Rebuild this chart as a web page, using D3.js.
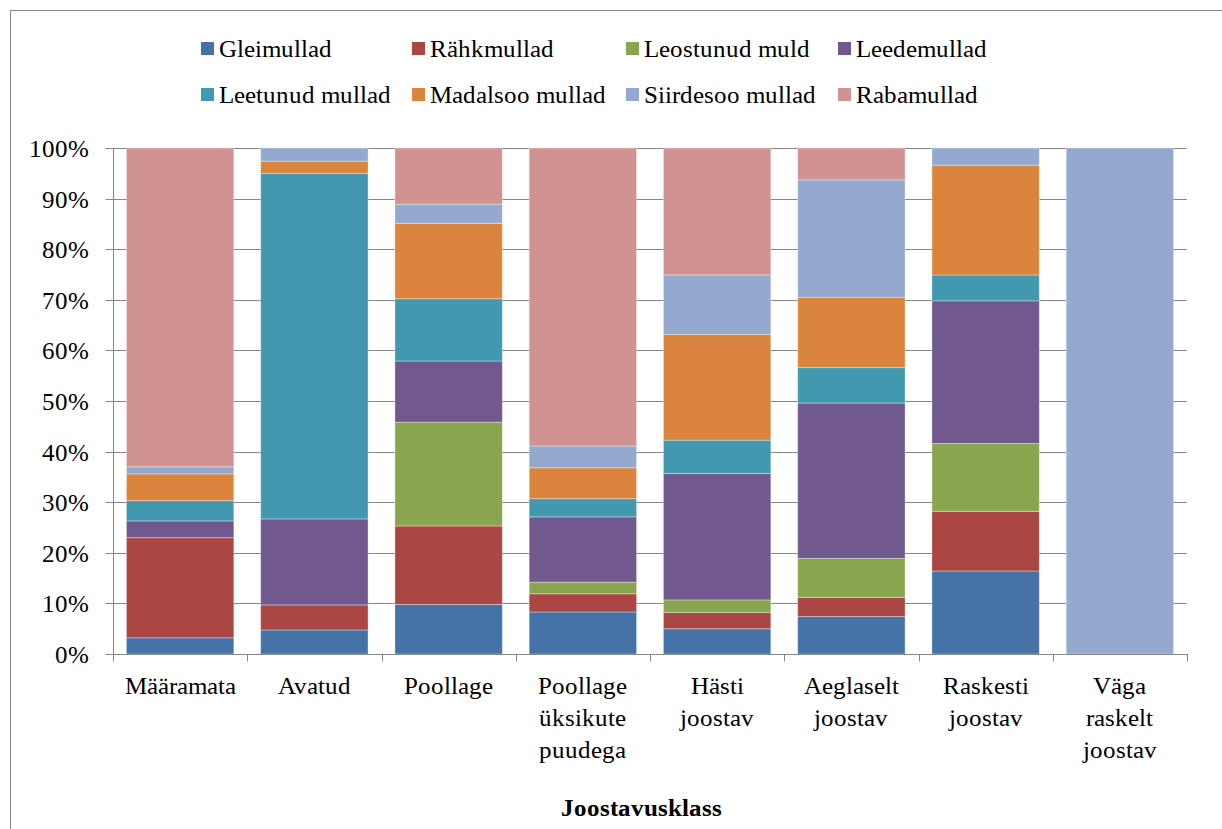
<!DOCTYPE html>
<html>
<head>
<meta charset="utf-8">
<script src="https://cdn.jsdelivr.net/npm/d3@7"></script>
<style>
  @font-face { font-family: "RefSerif"; font-weight: 400; font-style: normal;
    src: local("Liberation Serif"), local("LiberationSerif"), local("Liberation Serif Regular"), local("LiberationSerif-Regular"), local("Tinos"), local("Tinos-Regular"), local("Times New Roman"); }
  @font-face { font-family: "RefSerif"; font-weight: 700; font-style: normal;
    src: local("Liberation Serif Bold"), local("LiberationSerif-Bold"), local("Tinos Bold"), local("Tinos-Bold"); }
  html, body { margin: 0; padding: 0; background: #fff; }
</style>
</head>
<body>
<svg id="chart" width="1222" height="829"></svg>
<script>
const categories = ["Määramata", "Avatud", "Poollage", "Poollage üksikute puudega", "Hästi joostav", "Aeglaselt joostav", "Raskesti joostav", "Väga raskelt joostav"];
const categoryLines = [["Määramata"], ["Avatud"], ["Poollage"], ["Poollage", "üksikute", "puudega"], ["Hästi", "joostav"], ["Aeglaselt", "joostav"], ["Raskesti", "joostav"], ["Väga", "raskelt", "joostav"]];
const seriesNames = ["Gleimullad", "Rähkmullad", "Leostunud muld", "Leedemullad", "Leetunud mullad", "Madalsoo mullad", "Siirdesoo mullad", "Rabamullad"];
const seriesColors = ["#4572A7", "#AA4643", "#89A54E", "#71588F", "#4198AF", "#DB843D", "#93A9CF", "#D19392"];

const gleimullad     = [3.2, 4.75, 9.8, 8.3, 5.0, 7.4, 16.4, 0];
const rahkmullad     = [19.8, 4.95, 15.5, 3.6, 3.2, 3.8, 11.8, 0];
const leostunudMuld  = [0, 0, 20.5, 2.3, 2.5, 7.7, 13.4, 0];
const leedemullad    = [3.3, 17.0, 12.1, 12.9, 25.0, 30.7, 28.2, 0];
const leetunudMullad = [4.0, 68.3, 12.3, 3.6, 6.6, 7.0, 5.1, 0];
const madalsooMullad = [5.3, 2.4, 14.9, 6.1, 20.9, 13.9, 21.7, 0];
const siirdesooMullad= [1.4, 2.6, 3.8, 4.3, 11.8, 23.2, 3.4, 100];
const rabamullad     = [63.0, 0, 11.1, 58.9, 25.1, 6.3, 0, 0];

const yTicks = [0, 0.1, 0.2, 0.3, 0.4, 0.5, 0.6, 0.7, 0.8, 0.9, 1.0];
const xTitle = "Joostavusklass";

const FONT = "RefSerif, 'Liberation Serif', Tinos, 'Times New Roman', serif";
const FS = 25;

const seriesValues = [gleimullad, rahkmullad, leostunudMuld, leedemullad, leetunudMullad, madalsooMullad, siirdesooMullad, rabamullad];
const table = categories.map((c, i) => {
  const row = { category: c };
  seriesNames.forEach((s, j) => row[s] = seriesValues[j][i]);
  return row;
});

const W = 1222, H = 829;
const plot = { left: 113, right: 1187, top: 148, bottom: 654 };

function draw() {
const svg = d3.select("#chart");
svg.selectAll("*").remove();

svg.append("rect").attr("x", 10.5).attr("y", 10.5).attr("width", W + 20).attr("height", H + 20)
  .attr("fill", "none").attr("stroke", "#868686").attr("stroke-width", 1);

const x = d3.scaleBand().domain(categories).range([plot.left, plot.right]).paddingInner(0.2).paddingOuter(0.1);
const y = d3.scaleLinear().domain([0, 1]).range([plot.bottom, plot.top]);

svg.append("g").selectAll("line").data(yTicks.slice(1)).join("line")
  .attr("x1", plot.left).attr("x2", plot.right)
  .attr("y1", d => Math.round(y(d)) + 0.5).attr("y2", d => Math.round(y(d)) + 0.5)
  .attr("stroke", "#868686").attr("stroke-width", 1);

const stack = d3.stack().keys(seriesNames).offset(d3.stackOffsetExpand);
const stacked = stack(table);
svg.append("g").selectAll("g").data(stacked).join("g")
  .attr("fill", (d, i) => seriesColors[i])
  .selectAll("rect").data(d => d).join("rect")
  .attr("x", d => x(d.data.category))
  .attr("width", x.bandwidth())
  .attr("y", d => y(d[1]))
  .attr("height", d => Math.max(0, y(d[0]) - y(d[1])))
  .attr("stroke", d => (d[1] - d[0]) > 0 ? "rgba(255,255,255,0.35)" : "none")
  .attr("stroke-width", 1);

const yAxis = d3.axisLeft(y).tickValues(yTicks).tickFormat(d3.format(".0%")).tickSize(8).tickPadding(17);
const gy = svg.append("g").attr("transform", `translate(${plot.left + 0.5},0)`).call(yAxis)
  .attr("font-family", FONT).attr("font-size", FS);
gy.select(".domain").attr("stroke", "#868686").attr("d", `M-8,${plot.top}.5H0V${plot.bottom}.5H-8`);
gy.selectAll(".tick line").attr("stroke", "#868686");
gy.selectAll(".tick").attr("transform", d => `translate(0,${Math.round(y(d)) + 0.5})`);
gy.selectAll(".tick text").attr("fill", "#000");

const gx = svg.append("g").attr("transform", `translate(0,${plot.bottom + 0.5})`);
gx.append("line").attr("x1", plot.left).attr("x2", plot.right + 1).attr("y1", 0).attr("y2", 0).attr("stroke", "#868686");
const step = x.step();
const boundaries = d3.range(categories.length + 1).map(i => plot.left + i * step);
gx.selectAll("line.tk").data(boundaries).join("line").attr("class", "tk")
  .attr("x1", d => Math.round(d) + 0.5).attr("x2", d => Math.round(d) + 0.5)
  .attr("y1", 0).attr("y2", 7).attr("stroke", "#868686");

const labels = svg.append("g").attr("font-family", FONT).attr("font-size", FS);
categories.forEach((c, i) => {
  const cx = x(c) + x.bandwidth() / 2;
  const t = labels.append("text").attr("text-anchor", "middle");
  categoryLines[i].forEach((ln, k) => {
    t.append("tspan").attr("x", cx).attr("y", 694 + k * 32).text(ln);
  });
});

svg.append("text").attr("x", 641).attr("y", 816).attr("text-anchor", "middle")
  .attr("font-family", FONT).attr("font-size", FS).attr("font-weight", "bold").text(xTitle);

const legCols = [201, 412, 626, 838];
const legRows = [57, 103];
const leg = svg.append("g").attr("font-family", FONT).attr("font-size", FS);
seriesNames.forEach((s, i) => {
  const lx = legCols[i % 4], ly = legRows[Math.floor(i / 4)];
  leg.append("rect").attr("x", lx).attr("y", ly - 15).attr("width", 13).attr("height", 13).attr("fill", seriesColors[i]);
  leg.append("text").attr("x", lx + 18).attr("y", ly).text(s);
});
}
draw();
if (document.fonts && document.fonts.load) {
  Promise.all([document.fonts.load("25px RefSerif"), document.fonts.load("bold 25px RefSerif")]).then(draw, draw);
}
</script>
</body>
</html>
